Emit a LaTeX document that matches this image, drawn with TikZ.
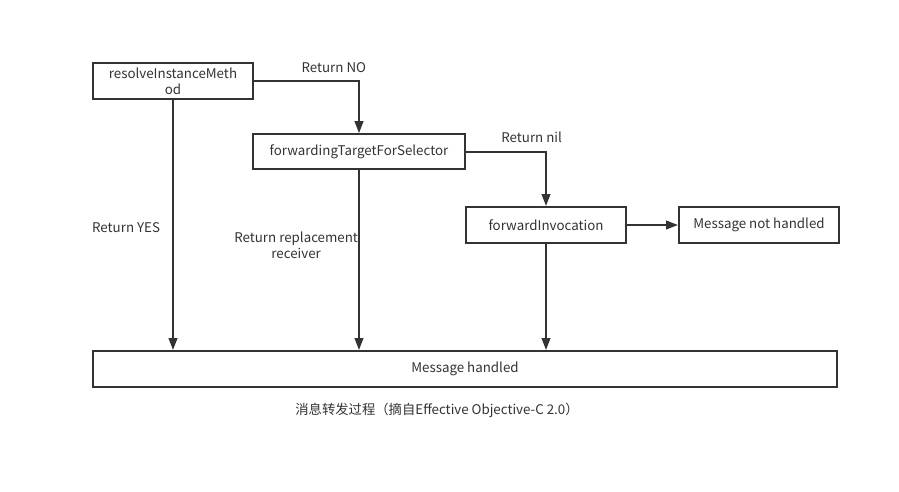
\documentclass[tikz,border=0pt]{standalone}
\usepackage{fontspec}
\setmainfont{Noto Sans CJK SC}
\usepackage{tikz}
\usetikzlibrary{arrows.meta, calc, positioning}
\definecolor{ink}{HTML}{333333}
\tikzstyle{block} = [rectangle, line width=1.5pt, draw=ink, text=ink, minimum height=27pt, text centered, align=center]
\tikzstyle{lbl} = [text=ink, align=center, inner sep=1pt]
\tikzstyle{arrow} = [line width=1.5pt, draw=ink, -{Triangle[length=9pt,width=6.5pt]}]

\begin{document}
\begin{tikzpicture}[x=0.75pt, y=-0.75pt, font=\fontsize{10}{12}\selectfont]
		\useasboundingbox (0,0) rectangle (899,492);
		\node (Resolve) [block, minimum width=120pt] at (173,81) {resolveInstanceMeth\\od};
		\node (Forwarding) [block, minimum width=159pt, minimum height=26pt] at (359,151.5) {forwardingTargetForSelector};
		\node (Invocation) [block, minimum width=120pt] at (546,225) {forwardInvocation};
		\node (NotHandled) [block, minimum width=120pt, right = 38.25pt of Invocation] {Message not handled};
		\node (Handled) [block, minimum width=558pt] at (465,369) {Message handled};
		\node (Caption) [lbl] at (437,410) {消息转发过程（摘自Effective Objective-C 2.0）};
		
		\draw [arrow] (Resolve) -| node[lbl, above=4.5pt, pos=0.38]{Return NO} (Forwarding);
		\draw [arrow] (Forwarding) -| node[lbl, above=4.5pt, pos=0.41]{Return nil} (Invocation);
		\draw [arrow] (Resolve) -- node[lbl, left=8pt, pos=0.51]{Return YES} (Resolve |- Handled.north);
		\draw [arrow] (Forwarding) -- node[lbl, left, inner sep=0pt, pos=0.42]{Return replacement\\receiver} (Forwarding |- Handled.north);
		\draw [arrow] (Invocation) -- (Invocation |- Handled.north);
		\draw [arrow] (Invocation) -- (NotHandled);
\end{tikzpicture}
\end{document}
